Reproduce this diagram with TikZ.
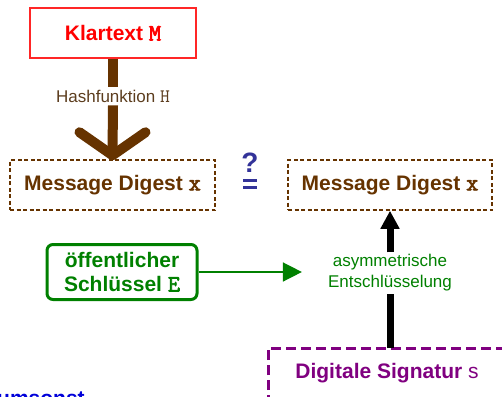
\documentclass[tikz,border=0pt]{standalone}
\usepackage{fontspec}
\setmainfont{Liberation Sans}
\newfontfamily\cour{Latin Modern Mono}[AutoFakeBold=3,Scale=1.12]
\usetikzlibrary{arrows.meta,calc}
\definecolor{kbrown}{HTML}{663300}
\definecolor{kgreen}{HTML}{008000}
\definecolor{kpurple}{HTML}{800080}
\definecolor{kblue}{HTML}{333399}
\definecolor{klabel}{HTML}{5C3D1E}
\tikzset{
  bigfont/.style={font=\fontsize{21}{23}\selectfont\bfseries},
  smallfont/.style={font=\fontsize{17}{21}\selectfont},
  digestbox/.style={draw=kbrown, line width=1.5pt, dash pattern=on 4pt off 2.5pt, minimum width=205pt, minimum height=50pt, text=kbrown, bigfont},
  brownarrow/.style={draw=kbrown, line width=10pt},
}
\begin{document}
\begin{tikzpicture}[x=1pt,y=-1pt]
\useasboundingbox (0,0) rectangle (502,396);
\clip (0,0) rectangle (502,396);

\node[draw=red!85, line width=1.2pt, minimum width=166pt, minimum height=50pt, text=red, bigfont] (klar) at (113,33) {Klartext {\cour M}};
\node[text=klabel, smallfont, inner sep=3pt] (hash) at (113,96) {Hashfunktion {\cour H}};
\node[digestbox] (dl) at (112.5,185) {Message Digest {\cour x}};
\node[digestbox, minimum width=204pt] (dr) at (390,185) {Message Digest {\cour x}};

\node[text=kblue, font=\fontsize{28}{28}\selectfont\bfseries, inner sep=0pt] (q) at (250,163) {?};
\fill[kblue] (243,179) rectangle (257,181.5);
\fill[kblue] (243,186) rectangle (257,188.5);

\node[draw=kgreen, line width=3pt, rounded corners=6pt, minimum width=150pt, minimum height=55pt, text=kgreen, align=center, font=\fontsize{21}{24}\selectfont\bfseries] (pk) at (122,272) {öffentlicher\\Schlüssel {\cour E}};

\node[text=kgreen, smallfont, align=center, inner sep=2pt] (entl) at (390,273) {asymmetrische\\Entschlüsselung};

\node[text=kpurple, bigfont] (sig) at (387,373) {Digitale Signatur {\mdseries s}};
\draw[kpurple, line width=3pt, dash pattern=on 10pt off 5pt] (268,420) |- (530,348);
\coordinate (sigtop) at (390,348);

% hash arrow
\draw[brownarrow] (klar.south) -- (hash.north);
\draw[brownarrow] (hash.south) -- ($(dl.north)+(0,-6)$);
\draw[brownarrow, line cap=round, line join=round] ($(dl.north)+(-33,-27)$) -- ($(dl.north)+(0,-4)$) -- ($(dl.north)+(33,-27)$);

% decryption arrow
\draw[black, line width=7pt] (sigtop) -- (entl.south);
\draw[black, line width=7pt, -{Triangle[length=18pt,width=18pt]}] (entl.north) -- (dr.south);

% public key arrow
\draw[kgreen, line width=1.5pt, shorten >=24pt, -{Triangle[length=19pt,width=19pt]}] (pk.east) -- (pk.east -| entl.west);

% cut-off text at the bottom
\node[text=blue!85!black, bigfont, anchor=base west, inner sep=0pt] (cut) at (-3,405) {umsonst};
\end{tikzpicture}
\end{document}
